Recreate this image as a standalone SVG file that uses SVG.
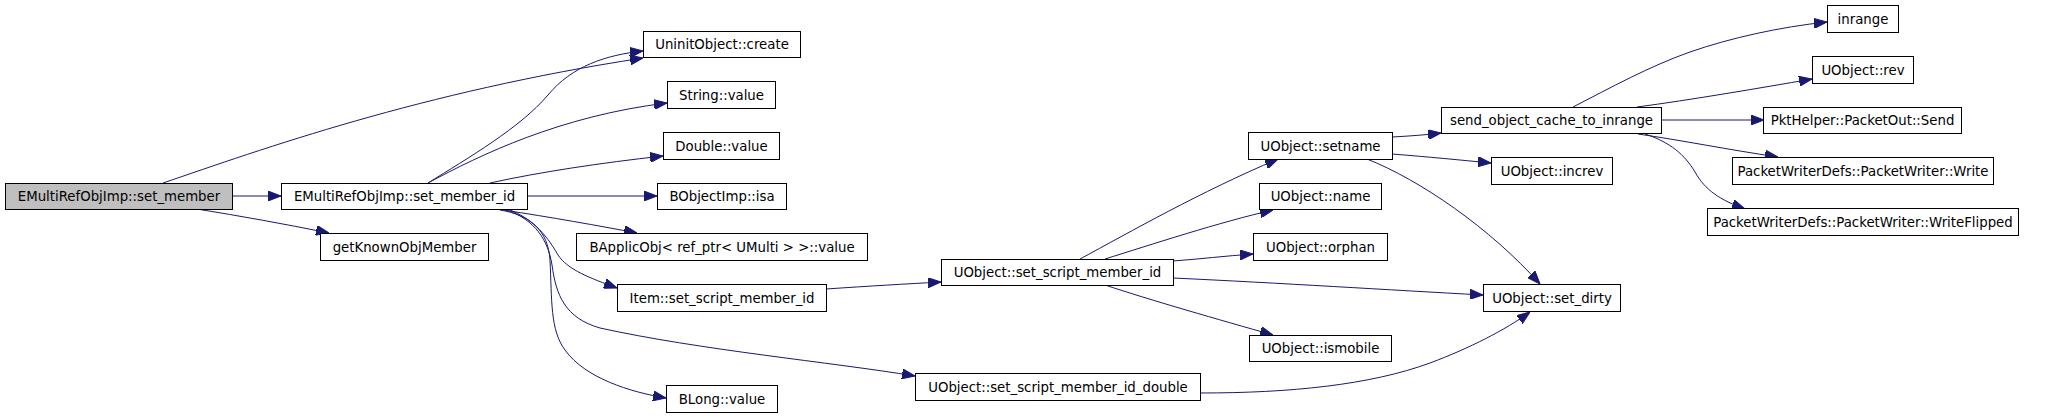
<svg xmlns="http://www.w3.org/2000/svg" width="2048" height="417" viewBox="0 0 2048 417">
<style>
.n rect{fill:#ffffff;stroke:#000000;stroke-width:1}
.n.root rect{fill:#bfbfbf}
.n text{font-family:"DejaVu Sans",sans-serif;font-size:13.3px;fill:#000000;text-anchor:middle}
.e path{fill:none;stroke:#191970;stroke-width:1;marker-end:url(#ah)}
</style>
<defs>
<marker id="ah" viewBox="0 0 13 10" refX="13" refY="5" markerWidth="13" markerHeight="10" markerUnits="userSpaceOnUse" orient="auto">
<path d="M0,0 L13,5 L0,10 z" fill="#191970" stroke="#191970" stroke-width="1"/>
</marker>
</defs>
<rect x="0" y="0" width="2048" height="417" fill="#ffffff"/>
<g id="edges" class="e">
<path d="M232,196 L281,196"/>
<path d="M197,209 C240,216 285,224 329,233"/>
<path d="M163,183 C260,150 420,92 643,58"/>
<path d="M428,183 C468,158 520,128 548,95 C572,66 606,55 643,51"/>
<path d="M428,183 C480,155 560,116 667,103"/>
<path d="M490,183 C540,172 600,163 663,156"/>
<path d="M527,196 L657,196"/>
<path d="M503,210 C550,217 600,226 637,233"/>
<path d="M510,210 C530,218 545,232 558,255 C568,270 590,278 617,288"/>
<path d="M507,210 C535,220 548,240 552,265 C556,295 565,318 600,328 C700,350 830,362 915,376"/>
<path d="M500,210 C530,215 548,230 550,260 C552,300 550,330 565,350 C585,378 630,392 666,398"/>
<path d="M826,289 C870,286 905,284 941,282"/>
<path d="M1080,259 C1130,232 1200,192 1278,159"/>
<path d="M1105,259 C1150,245 1220,222 1273,210"/>
<path d="M1173,261 C1200,259 1225,256 1253,254"/>
<path d="M1173,278 C1280,283 1390,290 1483,295"/>
<path d="M1105,285 C1150,300 1220,320 1273,335"/>
<path d="M1200,393 C1290,393 1370,385 1430,363 C1470,348 1505,330 1530,312"/>
<path d="M1392,137 C1410,136 1425,135 1441,133"/>
<path d="M1392,154 C1430,157 1460,160 1491,163"/>
<path d="M1367,159 C1420,180 1490,228 1540,284"/>
<path d="M1573,107 C1610,88 1650,66 1690,52 C1730,38 1780,27 1827,22"/>
<path d="M1637,107 C1690,100 1760,88 1812,79"/>
<path d="M1662,120 L1764,120"/>
<path d="M1638,134 C1680,140 1730,150 1778,157"/>
<path d="M1645,134 C1670,142 1685,155 1695,172 C1705,190 1720,200 1745,209"/>
</g>
<g id="n0" class="n root"><rect x="5.5" y="183.5" width="227" height="26"/><text x="119" y="201.2">EMultiRefObjImp::set_member</text></g>
<g id="n1" class="n"><rect x="281.5" y="183.5" width="246" height="26"/><text x="404.5" y="201.2">EMultiRefObjImp::set_member_id</text></g>
<g id="n2" class="n"><rect x="320.5" y="233.5" width="168" height="27"/><text x="404.5" y="251.7">getKnownObjMember</text></g>
<g id="n3" class="n"><rect x="643.5" y="31.5" width="157" height="26"/><text x="722" y="49.2">UninitObject::create</text></g>
<g id="n4" class="n"><rect x="667.5" y="81.5" width="108" height="27"/><text x="721.5" y="99.7">String::value</text></g>
<g id="n5" class="n"><rect x="663.5" y="132.5" width="116" height="27"/><text x="721.5" y="150.7">Double::value</text></g>
<g id="n6" class="n"><rect x="657.5" y="183.5" width="129" height="26"/><text x="722" y="201.2">BObjectImp::isa</text></g>
<g id="n7" class="n"><rect x="576.5" y="233.5" width="291" height="27"/><text x="722" y="251.7">BApplicObj&lt; ref_ptr&lt; UMulti &gt; &gt;::value</text></g>
<g id="n8" class="n"><rect x="617.5" y="284.5" width="209" height="27"/><text x="722" y="302.7">Item::set_script_member_id</text></g>
<g id="n9" class="n"><rect x="941.5" y="259.5" width="232" height="26"/><text x="1057.5" y="277.2">UObject::set_script_member_id</text></g>
<g id="n10" class="n"><rect x="915.5" y="373.5" width="285" height="27"/><text x="1058" y="391.7">UObject::set_script_member_id_double</text></g>
<g id="n11" class="n"><rect x="666.5" y="385.5" width="111" height="27"/><text x="722" y="403.7">BLong::value</text></g>
<g id="n12" class="n"><rect x="1248.5" y="132.5" width="144" height="27"/><text x="1320.5" y="150.7">UObject::setname</text></g>
<g id="n13" class="n"><rect x="1259.5" y="183.5" width="122" height="26"/><text x="1320.5" y="201.2">UObject::name</text></g>
<g id="n14" class="n"><rect x="1253.5" y="233.5" width="134" height="27"/><text x="1320.5" y="251.7">UObject::orphan</text></g>
<g id="n15" class="n"><rect x="1249.5" y="335.5" width="142" height="26"/><text x="1320.5" y="353.2">UObject::ismobile</text></g>
<g id="n16" class="n"><rect x="1441.5" y="107.5" width="220" height="26"/><text x="1551.5" y="125.2">send_object_cache_to_inrange</text></g>
<g id="n17" class="n"><rect x="1491.5" y="157.5" width="121" height="27"/><text x="1552" y="175.7">UObject::increv</text></g>
<g id="n18" class="n"><rect x="1483.5" y="284.5" width="137" height="27"/><text x="1552" y="302.7">UObject::set_dirty</text></g>
<g id="n19" class="n"><rect x="1827.5" y="5.5" width="71" height="27"/><text x="1863" y="23.7">inrange</text></g>
<g id="n20" class="n"><rect x="1812.5" y="56.5" width="101" height="27"/><text x="1863" y="74.7">UObject::rev</text></g>
<g id="n21" class="n"><rect x="1763.5" y="107.5" width="198" height="26"/><text x="1862.5" y="125.2">PktHelper::PacketOut::Send</text></g>
<g id="n22" class="n"><rect x="1732.5" y="157.5" width="261" height="27"/><text x="1863" y="175.7">PacketWriterDefs::PacketWriter::Write</text></g>
<g id="n23" class="n"><rect x="1707.5" y="208.5" width="311" height="27"/><text x="1863" y="226.7">PacketWriterDefs::PacketWriter::WriteFlipped</text></g>
</svg>
